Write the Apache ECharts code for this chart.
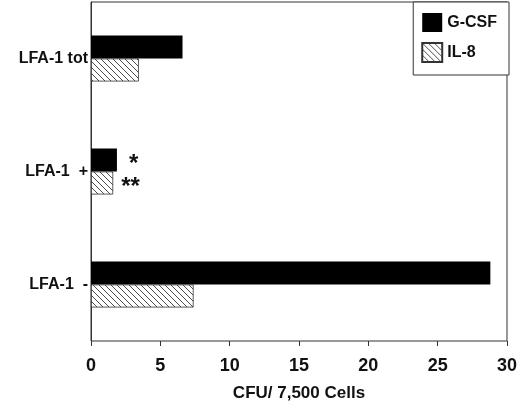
<!DOCTYPE html>
<html><head><meta charset="utf-8">
<script src="https://cdn.jsdelivr.net/npm/echarts@6/dist/echarts.min.js"></script>
<style>body{margin:0}#c{width:520px;height:408px}</style></head>
<body><div id="c"></div>
<script>
// categories bottom to top
var categories = ['LFA-1  -', 'LFA-1  +', 'LFA-1 tot'];
var gcsf = [28.8, 1.87, 6.6];
var il8 = [7.4, 1.6, 3.45];
var gcsfMarks = ['', '*', ''];
var il8Marks = ['', '**', ''];

// hatch pattern \\\
var pc = document.createElement('canvas');
pc.width = 6; pc.height = 6;
var g = pc.getContext('2d');
g.fillStyle = '#fff'; g.fillRect(0, 0, 6, 6);
g.strokeStyle = '#222'; g.lineWidth = 0.8;
g.beginPath();
g.moveTo(-1, -1); g.lineTo(7, 7);
g.moveTo(-1, 5); g.lineTo(1, 7);
g.moveTo(5, -1); g.lineTo(7, 1);
g.stroke();

var font = 'Liberation Sans';
function withMarks(vals, marks) {
  return vals.map(function (v, i) {
    return marks[i] ? { value: v, label: { show: true, formatter: marks[i] } } : v;
  });
}
var chart = echarts.init(document.getElementById('c'));
chart.setOption({
  animation: false,
  textStyle: { fontFamily: font },
  grid: { left: 91, right: 11, top: 2, bottom: 67, show: true, borderColor: '#333', borderWidth: 1 },
  legend: {
    data: ['G-CSF', 'IL-8'], orient: 'vertical', right: 11, top: 2, icon: 'rect',
    padding: [11, 12, 12, 8], itemGap: 10, itemWidth: 20, itemHeight: 19,
    borderColor: '#333', borderWidth: 1, backgroundColor: '#fff',
    textStyle: { fontFamily: font, fontWeight: 'bold', fontSize: 16, color: '#111' }
  },
  xAxis: {
    type: 'value', min: 0, max: 30, interval: 5,
    name: 'CFU/ 7,500 Cells', nameLocation: 'middle', nameGap: 44,
    nameTextStyle: { fontFamily: font, fontWeight: 'bold', fontSize: 17, color: '#111' },
    splitLine: { show: false },
    axisLine: { lineStyle: { color: '#333' } },
    axisTick: { show: true, length: 5, lineStyle: { color: '#333' } },
    axisLabel: { fontFamily: font, fontWeight: 'bold', fontSize: 18, color: '#111', margin: 16 }
  },
  yAxis: {
    type: 'category', data: categories,
    axisLine: { lineStyle: { color: '#333' } },
    axisTick: { show: false },
    axisLabel: { fontFamily: font, fontWeight: 'bold', fontSize: 16, color: '#111', margin: 3 }
  },
  series: [
    { name: 'G-CSF', type: 'bar', data: withMarks(gcsf, gcsfMarks), barWidth: 23, barGap: '0%',
      itemStyle: { color: '#000' },
      label: { show: false, position: 'right', distance: 12, fontSize: 24, fontWeight: 'bold', color: '#111', offset: [0, 4] } },
    { name: 'IL-8', type: 'bar', data: withMarks(il8, il8Marks), barWidth: 23, barGap: '0%',
      itemStyle: { color: { image: pc, repeat: 'repeat' }, borderColor: '#333', borderWidth: 0.8 },
      label: { show: false, position: 'right', distance: 8, fontSize: 24, fontWeight: 'bold', color: '#111', offset: [0, 4] } }
  ]
});
</script></body></html>
